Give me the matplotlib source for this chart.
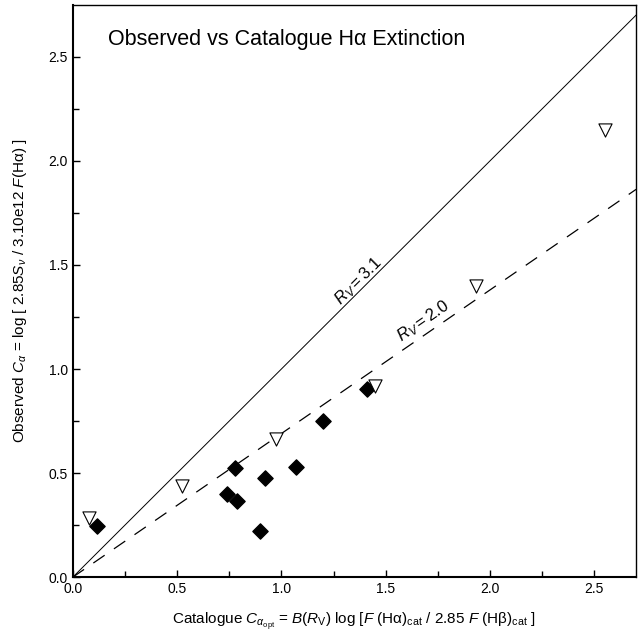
import matplotlib.pyplot as plt
import numpy as np

plt.rcParams['font.family'] = ['Liberation Sans', 'DejaVu Sans']
plt.rcParams['mathtext.fontset'] = 'custom'
plt.rcParams['mathtext.rm'] = 'Liberation Sans'
plt.rcParams['mathtext.it'] = 'Liberation Sans:italic'
plt.rcParams['mathtext.sf'] = 'Liberation Sans'

# filled diamonds
diam_x = [0.114, 0.777, 0.741, 0.789, 0.923, 0.899, 1.072, 1.198, 1.410]
diam_y = [0.245, 0.525, 0.402, 0.368, 0.477, 0.221, 0.530, 0.750, 0.902]

# open triangles
tri_x = [0.080, 0.524, 0.976, 1.448, 1.931, 2.553]
tri_y = [0.285, 0.437, 0.666, 0.918, 1.400, 2.146]

# reference lines
slope_31 = 1.0
slope_20 = 0.69

fig = plt.figure(figsize=(6.38, 6.35), dpi=100)
ax = fig.add_axes([0.114, 0.091, 0.883, 0.9016])

xl = np.array([0.0, 2.7])
ax.plot(xl, slope_31 * xl, color='black', lw=0.7)
ax.plot(xl, slope_20 * xl, color='black', lw=0.9, dashes=(11, 9))

ax.scatter(diam_x, diam_y, marker='D', s=60, color='black', zorder=3)
ax.scatter(tri_x, tri_y, marker='v', s=90, facecolor='white',
           edgecolor='black', linewidth=0.8, zorder=3)

ax.text(1.37, 1.42, '$R_V = 3.1$', rotation=45, fontsize=12,
        ha='center', va='center')
ax.text(1.68, 1.23, '$R_V = 2.0$', rotation=34.6, fontsize=12,
        ha='center', va='center')

ax.text(0.17, 2.585, 'Observed vs Catalogue H\u03b1 Extinction', fontsize=15.5,
        ha='left', va='center')

ax.set_xlim(0, 2.7)
ax.set_ylim(0, 2.75)
ax.set_xticks([0.0, 0.5, 1.0, 1.5, 2.0, 2.5])
ax.set_yticks([0.0, 0.5, 1.0, 1.5, 2.0, 2.5])
ax.set_xticks(np.arange(0.25, 2.7, 0.5), minor=True)
ax.set_yticks(np.arange(0.25, 2.75, 0.5), minor=True)
ax.tick_params(direction='in', length=5, width=1, labelsize=10)
ax.tick_params(which='minor', direction='in', length=4, width=1)
for s in ax.spines.values():
    s.set_linewidth(1.0)
ax.spines['left'].set_linewidth(1.5)
ax.spines['bottom'].set_linewidth(1.5)

ax.set_xlabel('Catalogue $C_{\\alpha_{\\rm opt}}$ = $B(R_{\\rm V})$ log [$F$ (H\u03b1)$_{\\rm cat}$ / 2.85 $F$ (H\u03b2)$_{\\rm cat}$ ]',
              fontsize=11, labelpad=10)
ax.set_ylabel('Observed $C_\\alpha$ = log [ 2.85$S_\\nu$ / 3.10e12 $F$(H\u03b1) ]',
              fontsize=11, labelpad=14)

fig.savefig('out.png', dpi=100)
